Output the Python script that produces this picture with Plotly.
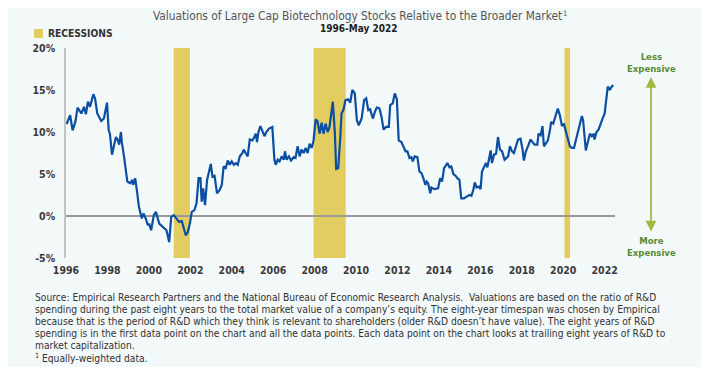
import plotly.graph_objects as go

# ---------------- data ----------------
years = [
    1996.03, 1996.2, 1996.32, 1996.45, 1996.56, 1996.74, 1996.87, 1996.96, 1997.06, 1997.16,
    1997.32, 1997.4, 1997.51, 1997.7, 1997.83, 1997.98, 1998.06, 1998.12, 1998.22, 1998.41,
    1998.49, 1998.57, 1998.65, 1998.7, 1998.8, 1998.86, 1998.96, 1999.1, 1999.21, 1999.24,
    1999.34, 1999.44, 1999.52, 1999.66, 1999.74, 1999.85, 1999.95, 2000.01, 2000.11, 2000.24,
    2000.34, 2000.5, 2000.7, 2000.85, 2000.98, 2001.08, 2001.2, 2001.33, 2001.46, 2001.59,
    2001.69, 2001.78, 2001.88, 2001.98, 2002.07, 2002.2, 2002.3, 2002.4, 2002.49, 2002.55,
    2002.62, 2002.71, 2002.81, 2002.9, 2002.99, 2003.07, 2003.17, 2003.29, 2003.42, 2003.52,
    2003.61, 2003.71, 2003.81, 2003.9, 2004.0, 2004.1, 2004.19, 2004.29, 2004.39, 2004.52,
    2004.58, 2004.67, 2004.77, 2004.87, 2005.0, 2005.09, 2005.16, 2005.22, 2005.29, 2005.38,
    2005.48, 2005.58, 2005.67, 2005.8, 2005.96, 2006.06, 2006.12, 2006.22, 2006.31, 2006.41,
    2006.51, 2006.57, 2006.65, 2006.76, 2006.86, 2006.99, 2007.08, 2007.18, 2007.28, 2007.37,
    2007.47, 2007.57, 2007.66, 2007.76, 2007.86, 2007.95, 2008.05, 2008.14, 2008.24, 2008.34,
    2008.43, 2008.53, 2008.63, 2008.72, 2008.88, 2008.98, 2009.04, 2009.14, 2009.24, 2009.3,
    2009.4, 2009.49, 2009.62, 2009.72, 2009.82, 2009.94, 2010.04, 2010.13, 2010.27, 2010.39,
    2010.49, 2010.59, 2010.68, 2010.81, 2010.91, 2011.0, 2011.13, 2011.23, 2011.33, 2011.45,
    2011.58, 2011.65, 2011.77, 2011.87, 2011.97, 2012.06, 2012.19, 2012.29, 2012.39, 2012.48,
    2012.58, 2012.67, 2012.74, 2012.83, 2012.96, 2013.06, 2013.16, 2013.25, 2013.35, 2013.41,
    2013.48, 2013.58, 2013.64, 2013.77, 2013.96, 2014.06, 2014.15, 2014.25, 2014.35, 2014.41,
    2014.51, 2014.6, 2014.7, 2014.8, 2014.89, 2014.99, 2015.08, 2015.21, 2015.34, 2015.47,
    2015.57, 2015.66, 2015.73, 2015.82, 2015.92, 2016.01, 2016.08, 2016.18, 2016.27, 2016.34,
    2016.43, 2016.5, 2016.56, 2016.66, 2016.76, 2016.85, 2016.95, 2017.05, 2017.17, 2017.28,
    2017.34, 2017.43, 2017.53, 2017.62, 2017.72, 2017.82, 2017.94, 2018.04, 2018.1, 2018.2,
    2018.33, 2018.42, 2018.52, 2018.62, 2018.75, 2018.81, 2018.91, 2019.0, 2019.07, 2019.16,
    2019.26, 2019.36, 2019.42, 2019.52, 2019.61, 2019.74, 2019.84, 2019.94, 2020.03, 2020.13,
    2020.22, 2020.32, 2020.42, 2020.52, 2020.61, 2020.71, 2020.81, 2020.9, 2020.96, 2021.03,
    2021.09, 2021.19, 2021.29, 2021.38, 2021.48, 2021.51, 2021.61, 2021.71, 2021.8, 2021.9,
    2022.0, 2022.06, 2022.15, 2022.25, 2022.31, 2022.41,
]
valuations = [
    10.95, 12.0, 10.2, 11.2, 12.9, 12.2, 13.0, 12.1, 13.6, 13.0,
    14.5, 14.0, 12.2, 11.3, 11.6, 13.5, 10.2, 9.8, 7.3, 9.4,
    9.1, 8.5, 10.0, 8.7, 7.1, 6.1, 4.1, 3.9, 4.3, 3.7,
    4.5, 2.7, 1.1, -0.3, 0.3, -0.3, -1.1, -0.9, -1.7, 0.1,
    0.5, -0.9, -1.3, -1.7, -3.1, -0.1, 0.1, -0.3, -0.7, -0.6,
    -1.7, -2.3, -1.9, -0.9, 0.5, 0.7, 1.5, 4.5, 4.5, 1.7,
    3.3, 1.3, 4.3, 5.1, 6.2, 4.7, 4.8, 2.7, 3.1, 3.7,
    5.9, 5.7, 6.6, 6.1, 6.5, 6.1, 6.3, 6.1, 7.1, 7.5,
    7.9, 7.5, 7.1, 9.1, 9.0, 9.4, 9.8, 8.8, 10.0, 10.7,
    10.2, 9.5, 10.0, 10.4, 10.6, 6.7, 6.1, 6.7, 6.5, 7.1,
    6.7, 7.7, 6.7, 7.1, 6.6, 7.0, 6.9, 8.3, 7.1, 7.9,
    7.5, 8.1, 7.5, 8.6, 8.1, 9.0, 11.5, 11.3, 9.8, 11.1,
    9.8, 11.0, 10.0, 10.6, 13.6, 9.8, 5.6, 5.7, 9.4, 12.2,
    12.7, 13.8, 13.9, 13.5, 15.0, 14.6, 11.4, 10.8, 11.6, 13.8,
    14.0, 12.6, 12.7, 11.6, 12.4, 12.9, 12.8, 11.8, 10.3, 10.6,
    10.6, 13.2, 13.4, 14.6, 13.9, 9.0, 8.8, 8.3, 7.7, 7.7,
    6.9, 7.0, 6.5, 7.1, 7.0, 5.3, 5.1, 4.5, 3.7, 4.1,
    3.9, 2.7, 3.4, 3.2, 3.3, 4.5, 4.1, 5.7, 6.0, 6.3,
    5.8, 5.9, 5.0, 4.8, 4.5, 4.3, 2.1, 2.1, 2.3, 2.5,
    2.4, 3.1, 4.0, 3.4, 3.5, 3.2, 5.3, 5.9, 6.3, 5.8,
    6.9, 7.8, 6.3, 7.3, 7.4, 9.4, 7.9, 7.7, 6.7, 6.9,
    7.1, 8.3, 7.7, 7.5, 8.3, 9.1, 9.2, 7.9, 6.6, 7.7,
    8.5, 9.1, 8.8, 8.5, 8.5, 9.8, 9.6, 10.7, 8.3, 8.7,
    9.0, 10.2, 11.2, 11.0, 11.8, 12.8, 12.0, 10.7, 11.0, 10.2,
    9.2, 8.3, 8.1, 8.1, 9.0, 9.9, 10.8, 11.9, 11.4, 9.2,
    7.8, 8.8, 9.8, 9.5, 9.8, 9.1, 10.0, 10.3, 11.0, 11.6,
    12.2, 13.8, 15.4, 15.0, 15.3, 15.6,
]
recession_starts = [2001.2, 2007.95, 2020.06]
recession_ends = [2001.98, 2009.5, 2020.33]
x_tick_values = list(range(1996, 2023, 2))
x_tick_labels = [str(v) for v in x_tick_values]
y_tick_values = [-5, 0, 5, 10, 15, 20]
y_tick_labels = ["-5%", "0%", "5%", "10%", "15%", "20%"]

title_text = "Valuations of Large Cap Biotechnology Stocks Relative to the Broader Market"
title_note_mark = "1"
subtitle_text = "1996-May 2022"
legend_text = "RECESSIONS"
footnote_lines = [
    "Source: Empirical Research Partners and the National Bureau of Economic Research Analysis.  Valuations are based on the ratio of R&D",
    "spending during the past eight years to the total market value of a company\u2019s equity. The eight-year timespan was chosen by Empirical",
    "because that is the period of R&D which they think is relevant to shareholders (older R&D doesn\u2019t have value). The eight years of R&D",
    "spending is in the first data point on the chart and all the data points. Each data point on the chart looks at trailing eight years of R&D to",
    "market capitalization.",
    "<sup>1</sup> Equally-weighted data.",
]

# ---------------- styling ----------------
FONT = "DejaVu Sans Condensed, DejaVu Sans, sans-serif"
BG = "#f3f8f9"
LINE_BLUE = "#0b4ea2"
REC_YELLOW = "#e3cd60"
GREEN_TEXT = "#5b8b35"
GREEN_ARROW = "#a3b83f"

# the page body adds an 8px margin, so the figure is laid out 8px smaller
OFF = 8
W, H = 709 - 2 * OFF, 375 - 2 * OFF
PLOT_L, PLOT_R, PLOT_T, PLOT_B = 66, 615, 48, 258   # reference pixels
L = PLOT_L - OFF
T = PLOT_T - OFF
R = W - (PLOT_R - OFF)
B = H - (PLOT_B - OFF)
pw, ph = PLOT_R - PLOT_L, PLOT_B - PLOT_T


def px_x(p):
    return (p - PLOT_L) / pw


def px_y(p):
    return (PLOT_B - p) / ph


fig = go.Figure()

fig.add_trace(go.Scatter(
    x=years, y=valuations, mode="lines",
    line=dict(color=LINE_BLUE, width=2.2),
    hoverinfo="skip", showlegend=False,
))

shapes = []
for s, e in zip(recession_starts, recession_ends):
    shapes.append(dict(type="rect", xref="x", yref="paper", x0=s, x1=e, y0=0, y1=1,
                       fillcolor=REC_YELLOW, line=dict(width=0), layer="below"))
# legend swatch
shapes.append(dict(type="rect", xref="paper", yref="paper",
                   x0=px_x(34), x1=px_x(43), y0=px_y(38), y1=px_y(29),
                   fillcolor=REC_YELLOW, line=dict(width=0)))

annotations = [
    dict(text=title_text, x=px_x(357), y=px_y(8), xref="paper", yref="paper",
         showarrow=False, xanchor="center", yanchor="top", borderpad=0,
         font=dict(family=FONT, size=11.8, color="#555555")),
    dict(text=title_note_mark, x=px_x(562), y=px_y(8), xref="paper", yref="paper",
         showarrow=False, xanchor="left", yanchor="top", borderpad=0,
         font=dict(family=FONT, size=7.5, color="#555555")),
    dict(text="<b>" + subtitle_text + "</b>", x=px_x(359), y=px_y(22), xref="paper", yref="paper",
         showarrow=False, xanchor="center", yanchor="top", borderpad=0,
         font=dict(family=FONT, size=10, color="#222222")),
    dict(text="<b>" + legend_text + "</b>", x=px_x(46), y=px_y(33.5), xref="paper", yref="paper",
         showarrow=False, xanchor="left", yanchor="middle",
         font=dict(family=FONT, size=10.2, color="#333333")),
    dict(text="<b>Less<br>Expensive</b>", x=px_x(651), y=px_y(62), xref="paper", yref="paper",
         showarrow=False, xanchor="center", yanchor="middle",
         font=dict(family=FONT, size=9.5, color=GREEN_TEXT)),
    dict(text="<b>More<br>Expensive</b>", x=px_x(651), y=px_y(246), xref="paper", yref="paper",
         showarrow=False, xanchor="center", yanchor="middle",
         font=dict(family=FONT, size=9.5, color=GREEN_TEXT)),
    dict(text="", x=px_x(651), y=px_y(77), xref="paper", yref="paper",
         showarrow=True, ax=0, ay=156, arrowside="end+start",
         arrowhead=2, startarrowhead=2, arrowsize=1.2, startarrowsize=1.2,
         arrowwidth=1.8, arrowcolor=GREEN_ARROW),
]
for i, line in enumerate(footnote_lines):
    annotations.append(dict(text=line, x=px_x(33), y=px_y(297 + 12 * i), xref="paper", yref="paper",
                            showarrow=False, xanchor="left", yanchor="middle",
                            font=dict(family=FONT, size=10.2, color="#333333")))

fig.update_layout(
    width=W, height=H,
    margin=dict(l=L, r=R, t=T, b=B),
    paper_bgcolor=BG, plot_bgcolor=BG,
    showlegend=False,
    shapes=shapes, annotations=annotations,
    xaxis=dict(range=[1996, 2022.5], tickvals=x_tick_values, ticktext=["<b>%s</b>" % t for t in x_tick_labels],
               showgrid=False, zeroline=False, showline=False, ticks="",
               ticklabelstandoff=4,
               tickfont=dict(family=FONT, size=10.5, color="#3a3a3a")),
    yaxis=dict(range=[-5, 20], tickvals=y_tick_values, ticktext=["<b>%s</b>" % t for t in y_tick_labels],
               showgrid=False, zeroline=True, zerolinecolor="#9a9a9a", zerolinewidth=1.5,
               showline=True, linecolor="#c4c4c4", linewidth=1.5, ticks="",
               ticklabelstandoff=7,
               tickfont=dict(family=FONT, size=10.5, color="#3a3a3a")),
)

fig.write_html("out.html")
